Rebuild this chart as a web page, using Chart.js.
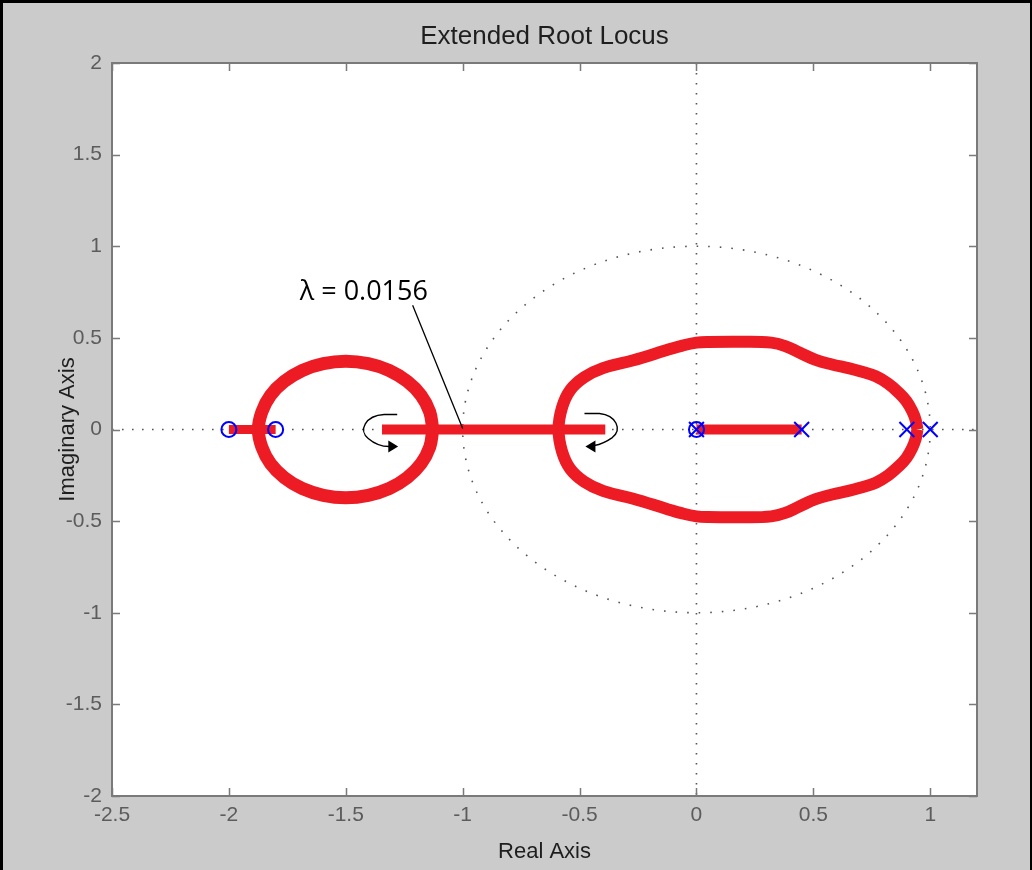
<!DOCTYPE html>
<html>
<head>
<meta charset="utf-8">
<script src="https://cdn.jsdelivr.net/npm/chart.js@4.4.1/dist/chart.umd.min.js"></script>
<style>
html,body{margin:0;padding:0;background:#cbcbcb;overflow:hidden}
canvas{display:block}
</style>
</head>
<body>
<canvas id="c" width="1032" height="870"></canvas>
<script>
// ---- Axis ticks / ranges ----
const xTicks = [-2.5, -2, -1.5, -1, -0.5, 0, 0.5, 1];
const yTicks = [-2, -1.5, -1, -0.5, 0, 0.5, 1, 1.5, 2];
const xRange = [-2.5, 1.2];
const yRange = [-2, 2];

// ---- Open-loop zeros (o) and poles (x) ----
const zerosRe = [-2, -1.8, 0];
const zerosIm = [0, 0, 0];
const polesRe = [0, 0.45, 0.9, 1.0];
const polesIm = [0, 0, 0, 0];

// ---- Locus branches on the real axis ----
const segARe = [-2, -1.8];
const segAIm = [0, 0];
const segBRe = [-1.345, -0.39];
const segBIm = [0, 0];
const segCRe = [0, 0.45];
const segCIm = [0, 0];

// ---- Left closed branch (around -1.5) ----
const leftLoopRe = [-1.128, -1.141, -1.178, -1.237, -1.314, -1.404, -1.5, -1.596, -1.686, -1.763, -1.822, -1.859, -1.874,
                    -1.859, -1.822, -1.763, -1.686, -1.596, -1.5, -1.404, -1.314, -1.237, -1.178, -1.141, -1.128];
const leftLoopIm = [0, 0.096, 0.186, 0.262, 0.322, 0.359, 0.372, 0.359, 0.322, 0.262, 0.186, 0.096, 0,
                    -0.096, -0.186, -0.262, -0.322, -0.359, -0.372, -0.359, -0.322, -0.262, -0.186, -0.096, 0];

// ---- Right closed branch (around the origin) ----
const rightLoopRe = [0.945, 0.938, 0.923, 0.898, 0.866, 0.82, 0.767, 0.70, 0.65, 0.58, 0.51, 0.44, 0.38, 0.32, 0.20, 0.05, 0.0, -0.06, -0.13, -0.27, -0.40, -0.48, -0.54, -0.575, -0.59,
                     -0.575, -0.54, -0.48, -0.40, -0.27, -0.13, -0.06, 0.0, 0.05, 0.20, 0.32, 0.38, 0.44, 0.51, 0.58, 0.65, 0.70, 0.767, 0.82, 0.866, 0.898, 0.923, 0.938, 0.945];
const rightLoopIm = [0, 0.05, 0.10, 0.155, 0.20, 0.25, 0.29, 0.318, 0.335, 0.355, 0.38, 0.42, 0.455, 0.474, 0.479, 0.478, 0.474, 0.458, 0.432, 0.378, 0.335, 0.285, 0.215, 0.12, 0,
                     -0.12, -0.215, -0.285, -0.335, -0.378, -0.432, -0.458, -0.474, -0.478, -0.479, -0.474, -0.455, -0.42, -0.38, -0.355, -0.335, -0.318, -0.29, -0.25, -0.20, -0.155, -0.10, -0.05, 0];

// ---- Annotation (data coordinates) ----
const lambdaText = 'λ = 0.0156';
const lambdaTextAt = [-1.697, 0.705];
const lambdaLeader = [[-1.214, 0.678], [-1.0, 0.005]];
// curved arrows: start, line end, bezier(c1,c2,p), bezier(c1,c2,p), arrow tip, head base 1, head base 2
const arrowLeft = [[-1.280, 0.082], [-1.336, 0.082], [-1.417, 0.076], [-1.447, -0.005], [-1.404, -0.049],
                   [-1.374, -0.082], [-1.344, -0.093], [-1.314, -0.093], [-1.276, -0.093], [-1.318, -0.060], [-1.318, -0.126]];
const arrowRight = [[-0.479, 0.087], [-0.415, 0.087], [-0.342, 0.076], [-0.317, 0.0], [-0.360, -0.044],
                    [-0.390, -0.071], [-0.415, -0.082], [-0.437, -0.087], [-0.475, -0.093], [-0.432, -0.060], [-0.432, -0.126]];

const titleText = 'Extended Root Locus';

const pts = (re, im) => re.map((v, i) => ({x: v, y: im[i]}));
const RED = '#ed1c24';
const BLUE = '#0000ff';
const AXIS = '#7a7a7a';

const plugin = {
  id: 'matlabStyle',
  beforeDraw(chart) {
    const {ctx, chartArea: a} = chart;
    ctx.save();
    ctx.fillStyle = '#ffffff';
    ctx.fillRect(a.left, a.top, a.right - a.left, a.bottom - a.top);
    ctx.restore();
  },
  beforeDatasetsDraw(chart) {
    const {ctx, chartArea: a, scales: {x, y}} = chart;
    ctx.save();
    ctx.beginPath();
    ctx.rect(a.left, a.top, a.right - a.left, a.bottom - a.top);
    ctx.clip();
    ctx.strokeStyle = '#555555';
    ctx.lineWidth = 1.6;
    ctx.setLineDash([1.6, 8.4]);
    const x0 = x.getPixelForValue(0), y0 = y.getPixelForValue(0);
    ctx.beginPath(); ctx.moveTo(a.left, y0); ctx.lineTo(a.right, y0); ctx.stroke();
    ctx.beginPath(); ctx.moveTo(x0, a.top); ctx.lineTo(x0, a.bottom); ctx.stroke();
    const rx = x.getPixelForValue(1) - x0, ry = y0 - y.getPixelForValue(1);
    ctx.setLineDash([1.6, 10]);
    ctx.beginPath(); ctx.ellipse(x0, y0, rx, ry, 0, 0, Math.PI * 2); ctx.stroke();
    ctx.restore();
  },
  afterDatasetsDraw(chart) {
    const {ctx, scales: {x, y}} = chart;
    const P = p => [x.getPixelForValue(p[0]), y.getPixelForValue(p[1])];
    ctx.save();
    [arrowLeft, arrowRight].forEach(ar => {
      const q = ar.map(P);
      ctx.strokeStyle = '#000';
      ctx.lineWidth = 1.4;
      ctx.beginPath();
      ctx.moveTo(q[0][0], q[0][1]);
      ctx.lineTo(q[1][0], q[1][1]);
      ctx.bezierCurveTo(q[2][0], q[2][1], q[3][0], q[3][1], q[4][0], q[4][1]);
      ctx.bezierCurveTo(q[5][0], q[5][1], q[6][0], q[6][1], q[7][0], q[7][1]);
      ctx.stroke();
      ctx.fillStyle = '#000';
      ctx.beginPath();
      ctx.moveTo(q[8][0], q[8][1]);
      ctx.lineTo(q[9][0], q[9][1]);
      ctx.lineTo(q[10][0], q[10][1]);
      ctx.closePath();
      ctx.fill();
    });
    const l0 = P(lambdaLeader[0]), l1 = P(lambdaLeader[1]);
    ctx.strokeStyle = '#000';
    ctx.lineWidth = 1.3;
    ctx.beginPath(); ctx.moveTo(l0[0], l0[1]); ctx.lineTo(l1[0], l1[1]); ctx.stroke();
    const t = P(lambdaTextAt);
    ctx.fillStyle = '#000';
    ctx.font = '27px "Open Sans", "Noto Sans", sans-serif';
    ctx.textAlign = 'left';
    ctx.textBaseline = 'alphabetic';
    ctx.fillText(lambdaText, t[0], t[1]);
    ctx.restore();
  },
  afterDraw(chart) {
    const {ctx, chartArea: a, scales: {x, y}} = chart;
    ctx.save();
    ctx.strokeStyle = AXIS;
    ctx.lineWidth = 2;
    ctx.strokeRect(a.left, a.top, a.right - a.left, a.bottom - a.top);
    ctx.lineWidth = 1.5;
    ctx.beginPath();
    xTicks.forEach(v => {
      const px = Math.round(x.getPixelForValue(v)) + 0.5;
      ctx.moveTo(px, a.bottom); ctx.lineTo(px, a.bottom - 8);
      ctx.moveTo(px, a.top); ctx.lineTo(px, a.top + 8);
    });
    yTicks.forEach(v => {
      const py = Math.round(y.getPixelForValue(v)) + 0.5;
      ctx.moveTo(a.left, py); ctx.lineTo(a.left + 8, py);
      ctx.moveTo(a.right, py); ctx.lineTo(a.right - 8, py);
    });
    ctx.stroke();
    ctx.fillStyle = '#1e1e1e';
    ctx.font = '26px "Liberation Sans", Arial, sans-serif';
    ctx.textAlign = 'center';
    ctx.textBaseline = 'alphabetic';
    ctx.fillText(titleText, (a.left + a.right) / 2, 44);
    ctx.fillStyle = '#000';
    ctx.fillRect(0, 0, chart.width, 3);
    ctx.fillRect(0, 0, 3, chart.height);
    ctx.fillRect(chart.width - 2, 0, 2, chart.height);
    ctx.restore();
  }
};

const lineDs = (re, im, w) => ({
  data: pts(re, im), showLine: true, borderColor: RED, backgroundColor: RED,
  borderWidth: w, pointRadius: 0, tension: 0.4, fill: false, order: 2
});

new Chart(document.getElementById('c'), {
  type: 'scatter',
  data: {
    datasets: [
      lineDs(leftLoopRe, leftLoopIm, 13),
      lineDs(rightLoopRe, rightLoopIm, 12),
      Object.assign(lineDs(segARe, segAIm, 9), {tension: 0}),
      Object.assign(lineDs(segBRe, segBIm, 10), {tension: 0}),
      Object.assign(lineDs(segCRe, segCIm, 10), {tension: 0}),
      {data: pts(zerosRe, zerosIm), pointStyle: 'circle', pointRadius: 7.5, borderColor: BLUE,
       backgroundColor: 'rgba(0,0,0,0)', pointBorderWidth: 2, showLine: false, order: 1},
      {data: pts(polesRe, polesIm), pointStyle: 'crossRot', pointRadius: 10.5, borderColor: BLUE,
       backgroundColor: BLUE, pointBorderWidth: 2, showLine: false, order: 1}
    ]
  },
  options: {
    responsive: false,
    animation: false,
    devicePixelRatio: 1,
    events: [],
    layout: {padding: {top: 63, right: 55, left: 0, bottom: 0}},
    plugins: {legend: {display: false}, tooltip: {enabled: false}, title: {display: false}},
    scales: {
      x: {
        type: 'linear', min: xRange[0], max: xRange[1],
        afterBuildTicks: s => { s.ticks = xTicks.map(v => ({value: v})); },
        afterFit: s => { s.height = 74; },
        grid: {display: false, drawTicks: false},
        border: {display: false},
        ticks: {padding: 7, color: '#5c5c5c', font: {family: '"Liberation Sans", Arial, sans-serif', size: 21},
                callback: v => String(v), maxRotation: 0, autoSkip: false},
        title: {display: true, text: 'Real Axis', color: '#1e1e1e',
                font: {family: '"Liberation Sans", Arial, sans-serif', size: 22}, padding: {top: 0, bottom: 5}}
      },
      y: {
        type: 'linear', min: yRange[0], max: yRange[1],
        afterBuildTicks: s => { s.ticks = yTicks.map(v => ({value: v})); },
        afterFit: s => { s.width = 112; },
        grid: {display: false, drawTicks: false},
        border: {display: false},
        ticks: {padding: 10, color: '#5c5c5c', font: {family: '"Liberation Sans", Arial, sans-serif', size: 21},
                callback: v => String(v), autoSkip: false},
        title: {display: true, text: 'Imaginary Axis', color: '#1e1e1e',
                font: {family: '"Liberation Sans", Arial, sans-serif', size: 22}, padding: {top: 55, bottom: 0}}
      }
    }
  },
  plugins: [plugin]
});
</script>
</body>
</html>
